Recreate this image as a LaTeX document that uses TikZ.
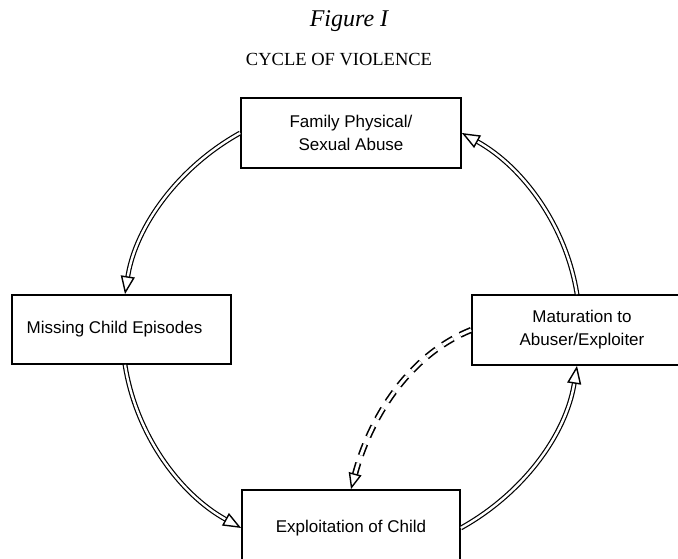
\documentclass[tikz,border=0pt]{standalone}
\usepackage{fontspec}
\setmainfont{Liberation Serif}
\newfontfamily\boxfont{Liberation Sans}
\usetikzlibrary{arrows.meta}
\begin{document}
\begin{tikzpicture}[x=1pt,y=1pt,
  box/.style={draw, line width=1.7pt, rectangle, inner sep=0pt, align=center,
    font=\boxfont\fontsize{17}{23}\selectfont},
  cyc/.style={draw, line width=1.2pt, double=white, double distance=2.4pt,
    -{Triangle[open,fill=white,length=18pt,width=14pt,line width=1.4pt]}},
  dasharr/.style={draw, line width=1.6pt, double=white, double distance=3pt,
    dash pattern=on 12pt off 8pt,
    -{Triangle[open,fill=white,length=16pt,width=13pt,line width=1.4pt]}},
  titlefont/.style={font=\fontsize{24}{26}\selectfont\itshape},
  subfont/.style={font=\fontsize{18.5}{20}\selectfont}
]
\useasboundingbox (0,0) rectangle (678,559);

\node[titlefont] (title) at (349,538) {Figure I};
\node[subfont] (sub) at (339,499) {CYCLE OF VIOLENCE};

\node[box, minimum width=220pt, minimum height=70pt] (top) at (351,426) {Family Physical/\\Sexual Abuse};
\node[box, minimum width=219pt, minimum height=69pt] (left) at (121.5,229.5) {\hspace*{-14pt}Missing Child Episodes};
\node[box, minimum width=220pt, minimum height=70pt] (right) at (582,229) {Maturation to\\Abuser/Exploiter};
\node[box, minimum width=218pt, minimum height=76pt] (bot) at (351,31) {Exploitation of Child};

\draw[cyc] (top.west) to[out=209,in=81,looseness=0.9] ([xshift=3.5pt]left.north);
\draw[cyc] ([xshift=3.5pt]left.south) to[out=279,in=151,looseness=0.9] (bot.west);
\draw[cyc] (bot.east) to[out=29,in=261,looseness=0.9] ([xshift=-5pt]right.south);
\draw[cyc] ([xshift=-5pt]right.north) to[out=99,in=331,looseness=0.9] (top.east);

\draw[dasharr] (right.west) to[out=202,in=75,looseness=0.9] (bot.north);
\end{tikzpicture}
\end{document}
